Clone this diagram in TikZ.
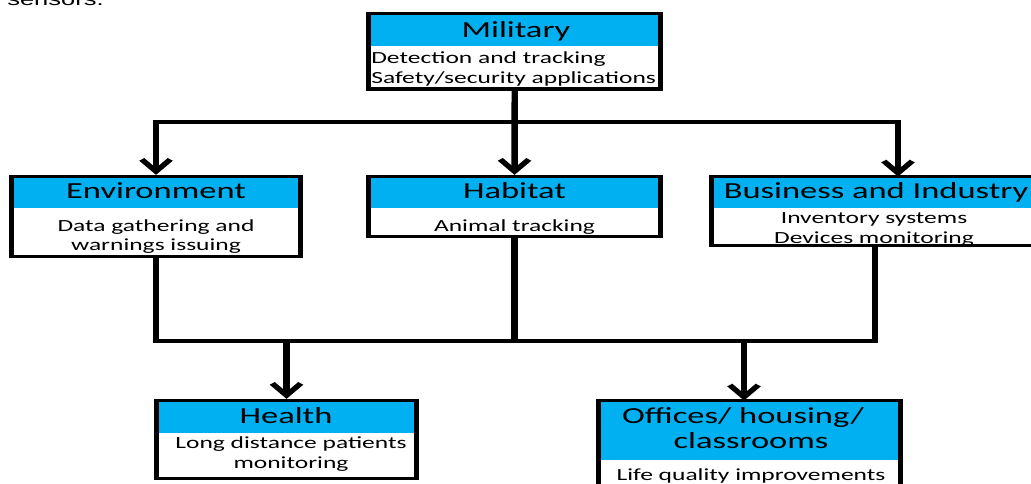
\documentclass[tikz,border=0pt]{standalone}
\usepackage{fontspec}
\usetikzlibrary{arrows.meta}
\newfontfamily\calib{Carlito}
\newfontfamily\arialf{Liberation Sans}
\definecolor{hblue}{HTML}{00B0F0}
\tikzset{
  box/.style={draw=black, line width=3.3pt, inner sep=0pt,
    path picture={\fill[hblue] (path picture bounding box.north west) rectangle ([yshift=-#1]path picture bounding box.north east);}},
  hdrtxt/.style={anchor=base, inner sep=0pt, text=black, font=\calib\fontsize{23}{26}\selectfont},
  bodytxt/.style={anchor=base, inner sep=0pt, text=black, font=\calib\fontsize{17}{20}\selectfont},
  conn/.style={draw=black, line width=4.3pt},
  arr/.style={-{Straight Barb[length=12pt,width=19pt]}}
}
\begin{document}
\begin{tikzpicture}
\useasboundingbox (0,0) rectangle (1031pt,-483pt);
\clip (0,0) rectangle (1031pt,-483pt);
\begin{scope}[transform canvas={xscale=1.5}, x=0.666667pt, y=-1pt]
  % partial caption at top
  \node[anchor=base west, inner sep=0pt, font=\arialf\fontsize{17}{20}\selectfont] (cap) at (7,5) {sensors.};
  % boxes
  \node[box=32.5pt, minimum width={292pt/1.5}, minimum height=75.5pt] (mil) at (514.75,51.25) {};
  \node[box=31.5pt, minimum width={289pt/1.5}, minimum height=80pt] (env) at (156,216.5) {};
  \node[box=31.5pt, minimum width={292pt/1.5}, minimum height=60pt] (hab) at (514.5,206.5) {};
  \node[box=31.5pt, minimum width={328.5pt/1.5}, minimum height=69pt] (bus) at (875.75,211) {};
  \node[box=32.5pt, minimum width={260pt/1.5}, minimum height=78pt] (hea) at (286.5,439.5) {};
  \node[box=59.5pt, minimum width={302pt/1.5}, minimum height=109.5pt] (off) at (749.5,455.25) {};
  % texts
  \node[hdrtxt] (milh) at (516,37) {Military};
  \node[bodytxt, anchor=base west] (milb1) at (371,63) {Detection and tracking};
  \node[bodytxt, anchor=base west] (milb2) at (371,83) {Safety/security applications};
  \node[hdrtxt] (envh) at (156,198) {Environment};
  \node[bodytxt] (envb1) at (156,231) {Data gathering and};
  \node[bodytxt] (envb2) at (156,250) {warnings issuing};
  \node[hdrtxt] (habh) at (514.5,198) {Habitat};
  \node[bodytxt] (habb1) at (514.5,231) {Animal tracking};
  \node[hdrtxt] (bush) at (876,198) {Business and Industry};
  \node[bodytxt] (busb1) at (874,223) {Inventory systems};
  \node[bodytxt] (busb2) at (874,243) {Devices monitoring};
  \node[hdrtxt] (heah) at (286,423) {Health};
  \node[bodytxt] (heab1) at (291,448) {Long distance patients};
  \node[bodytxt] (heab2) at (291,468) {monitoring};
  \node[hdrtxt] (offh1) at (743,423) {Offices/ housing/};
  \node[hdrtxt] (offh2) at (751,448) {classrooms};
  \node[bodytxt] (offb1) at (751,480) {Life quality improvements};
  % connectors, top part
  \coordinate (tb) at (514.75,122);
  \coordinate (busin) at (898,176.5);
  \draw[conn,arr] (mil.south) -- (hab.north);
  \draw[conn,arr] (tb) -| (env.north);
  \draw[conn,arr] (tb) -| (busin);
  % connectors, bottom part
  \coordinate (busout) at (875,245.5);
  \coordinate (br) at (875,341);
  \coordinate (offin) at (744,400.5);
  \draw[conn] (env.south) |- (br) -- (busout);
  \draw[conn] (hab.south) -- (hab.south |- br);
  \draw[conn,arr] (hea.north |- br) -- (hea.north);
  \draw[conn,arr] (offin |- br) -- (offin);
\end{scope}
\end{tikzpicture}
\end{document}
